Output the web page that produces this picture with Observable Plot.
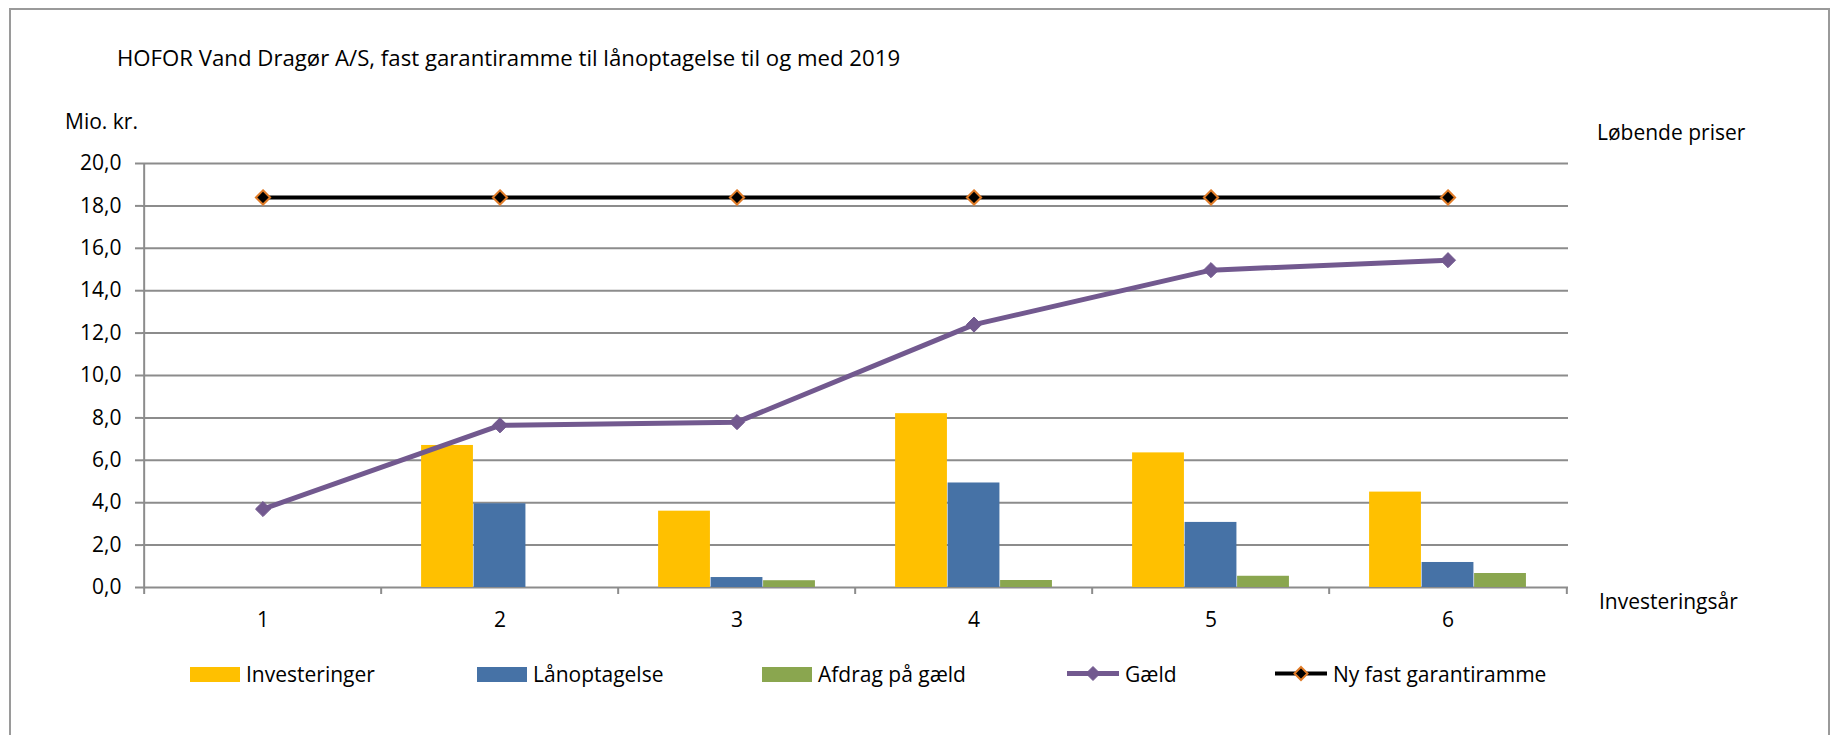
<!DOCTYPE html>
<html><head><meta charset="utf-8">
<script src="https://cdn.jsdelivr.net/npm/d3@7"></script>
<script src="https://cdn.jsdelivr.net/npm/@observablehq/plot@0.6"></script>
<style>body{margin:0;background:#fff;} svg{display:block}</style>
</head><body><div id="chart"></div>
<script>
// ---- data ----
const categories = ["1", "2", "3", "4", "5", "6"];
const investeringer = [null, 6.7, 3.6, 8.2, 6.35, 4.5];
const laanoptagelse = [null, 3.95, 0.47, 4.93, 3.07, 1.18];
const afdragPaaGaeld = [null, null, 0.32, 0.33, 0.53, 0.66];
const gaeld = [3.7, 7.65, 7.8, 12.4, 14.97, 15.44];
const nyFastGarantiramme = [18.4, 18.4, 18.4, 18.4, 18.4, 18.4];
const yTicks = [0, 2, 4, 6, 8, 10, 12, 14, 16, 18, 20];
const seriesNames = ["Investeringer", "Lånoptagelse", "Afdrag på gæld", "Gæld", "Ny fast garantiramme"];
const titleText = "HOFOR Vand Dragør A/S, fast garantiramme til lånoptagelse til og med 2019";
const yUnit = "Mio. kr.";
const priceNote = "Løbende priser";
const xTitle = "Investeringsår";

// ---- styles ----
const C = {inv: "#FFC000", lan: "#4672A6", afd: "#8AA64F", gaeld: "#72598F", ramme: "#000000", rammeEdge: "#E07B27", grid: "#8C8C8C"};
const W = 1833, H = 735, mL = 142, mR = 265, mT = 163, mB = 148;
const bw = (W - mL - mR) / categories.length;
const pad = bw * 0.1687, barW = bw * 0.2209;
const FONT = "'Open Sans', sans-serif";

const table = categories.map((c, i) => ({
  cat: c, inv: investeringer[i], lan: laanoptagelse[i], afd: afdragPaaGaeld[i],
  gaeld: gaeld[i], ramme: nyFastGarantiramme[i]
}));
const fmt = d => d.toFixed(1).replace(".", ",");
const barSeries = [["inv", C.inv], ["lan", C.lan], ["afd", C.afd]];

const chart = Plot.plot({
  width: W, height: H,
  marginLeft: mL, marginRight: mR, marginTop: mT, marginBottom: mB,
  style: {fontFamily: FONT, fontSize: "21px", background: "white", color: "black"},
  x: {domain: categories, padding: 0, label: null},
  y: {domain: [0, 20], label: null},
  marks: [
    Plot.gridY({ticks: yTicks, stroke: C.grid, strokeOpacity: 1, strokeWidth: 2}),
    ...barSeries.map(([k, col], j) => Plot.barY(table.filter(d => d[k] != null), {
      x: "cat", y: k, fill: col,
      insetLeft: pad + j * barW, insetRight: bw - pad - (j + 1) * barW
    })),
    Plot.ruleX([categories[0]], {dx: -bw / 2, stroke: C.grid, strokeWidth: 2}),
    Plot.axisY({ticks: yTicks, tickFormat: fmt, tickSize: 7, tickPadding: 14, stroke: C.grid, strokeWidth: 2, fill: "black", label: null, fontSize: 21}),
    Plot.axisX({ticks: categories, dx: -bw / 2, tickSize: 7, stroke: C.grid, strokeWidth: 2, fill: "none", label: null}),
    Plot.axisX({ticks: [categories[categories.length - 1]], dx: bw / 2, tickSize: 7, stroke: C.grid, strokeWidth: 2, fill: "none", label: null}),
    Plot.axisX({ticks: categories, tickSize: 0, tickPadding: 24.5, fill: "black", label: null, fontSize: 21}),
    Plot.lineY(table, {x: "cat", y: "ramme", stroke: C.ramme, strokeWidth: 4}),
    Plot.dot(table, {x: "cat", y: "ramme", symbol: "diamond2", r: 6.4, fill: C.ramme, stroke: C.rammeEdge, strokeWidth: 2}),
    Plot.lineY(table, {x: "cat", y: "gaeld", stroke: C.gaeld, strokeWidth: 5}),
    Plot.dot(table, {x: "cat", y: "gaeld", symbol: "diamond2", r: 6.8, fill: C.gaeld, stroke: C.gaeld, strokeWidth: 1})
  ]
});

document.getElementById("chart").appendChild(chart);

// ---- decorations: border, titles, legend ----
const svg = d3.select(chart);
svg.insert("rect", ":first-child")
  .attr("x", 10).attr("y", 9).attr("width", 1819).attr("height", 760)
  .attr("fill", "white").attr("stroke", "#9A9A9A").attr("stroke-width", 2);

const txt = (s, x, y, size = 21) => svg.append("text")
  .attr("x", x).attr("y", y).attr("text-anchor", "start")
  .attr("font-family", FONT).attr("font-size", size).attr("fill", "black").text(s);

txt(titleText, 117, 66, 22.2);
txt(yUnit, 65, 129);
txt(priceNote, 1597, 140);
txt(xTitle, 1599, 609);

const legY = 674.5;
const lg = svg.append("g");
const swatches = [[190, C.inv], [477, C.lan], [762, C.afd]];
swatches.forEach(([x, col], i) => {
  lg.append("rect").attr("x", x).attr("y", legY - 7.5).attr("width", 50).attr("height", 15).attr("fill", col);
  txt(seriesNames[i], x + 56, legY + 7.5);
});
// line legend items
const lineItems = [[1067, C.gaeld, 5, C.gaeld, 1, 7], [1275, C.ramme, 4, C.rammeEdge, 2, 6.5]];
lineItems.forEach(([x, col, sw, edge, esw, r], i) => {
  lg.append("line").attr("x1", x).attr("x2", x + 52).attr("y1", legY - 1).attr("y2", legY - 1)
    .attr("stroke", col).attr("stroke-width", sw);
  const cx = x + 26, cy = legY - 1;
  lg.append("path").attr("d", `M${cx},${cy - r}L${cx + r},${cy}L${cx},${cy + r}L${cx - r},${cy}Z`)
    .attr("fill", col).attr("stroke", edge).attr("stroke-width", esw);
  txt(seriesNames[3 + i], x + 58, legY + 7.5);
});
</script>
</body></html>
